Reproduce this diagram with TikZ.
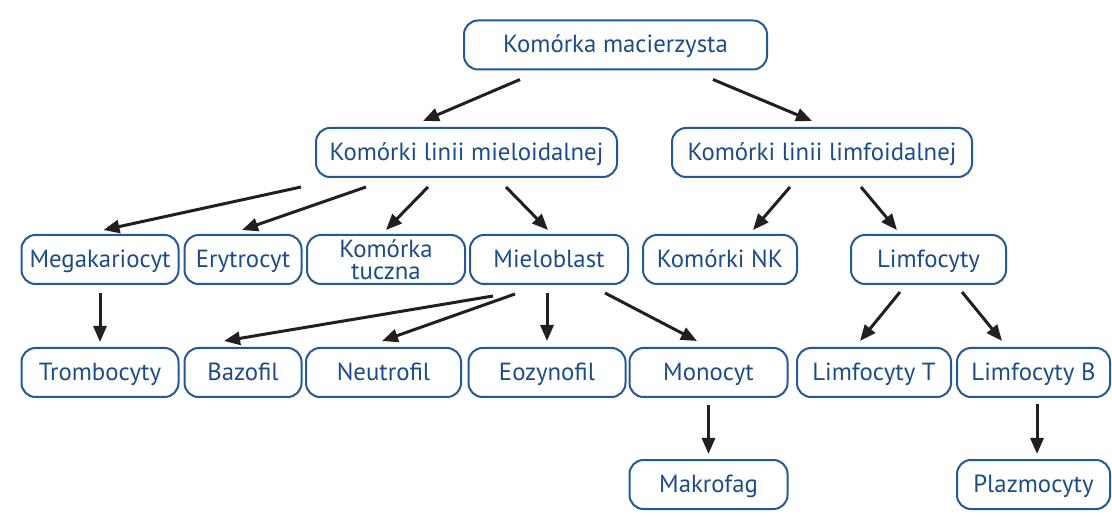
\documentclass[tikz,border=0pt]{standalone}
\usepackage{fontspec}
\setmainfont{PT Sans}
\usetikzlibrary{arrows.meta,calc}
\definecolor{txtblue}{RGB}{28,76,136}
\definecolor{boxblue}{RGB}{36,88,150}
\definecolor{arrblack}{RGB}{35,31,32}
\tikzset{
  boxbase/.style={draw=boxblue, line width=1pt, rounded corners=7pt, text=txtblue,
    minimum height=24.5pt, minimum width=#1*0.5pt, inner sep=0pt, align=center,
    font=\fontsize{12.4}{11.2}\selectfont},
  box/.style={boxbase=#1, text height=9.5pt, text depth=1.5pt},
  arr/.style={draw=arrblack, line width=1.5pt, -{Triangle[length=8pt,width=6.5pt]}}
}
\begin{document}
\begin{tikzpicture}[x=0.5pt, y=-0.5pt]
  \useasboundingbox (0,0) rectangle (1112,517);
  % level 1 and 2
  \node[box=303] (mac) at (615.5,45) {Komórka macierzysta};
  \node[box=301] (mie) at (466.5,152.5) {Komórki linii mieloidalnej};
  \node[box=300] (lim) at (822,152.5) {Komórki linii limfoidalnej};
  % level 3
  \node[box=157] (mega) at (100,259.5) {Megakariocyt};
  \node[box=117] (ery) at (243,259.5) {Erytrocyt};
  \node[boxbase=158] (tuc) at (386,259.5) {Komórka\\tuczna};
  \node[box=158] (mblast) at (549,259.5) {Mieloblast};
  \node[box=154] (nk) at (720,259.5) {Komórki NK};
  \node[box=155] (lcyt) at (928.5,259.5) {Limfocyty};
  % level 4
  \node[box=157] (tromb) at (100,372.5) {Trombocyty};
  \node[box=117] (baz) at (243,372.5) {Bazofil};
  \node[box=155] (neu) at (383.5,372.5) {Neutrofil};
  \node[box=157] (eoz) at (547,372.5) {Eozynofil};
  \node[box=158] (mono) at (708.5,372.5) {Monocyt};
  \node[box=154] (lt) at (874,372.5) {Limfocyty T};
  \node[box=153] (lb) at (1033.5,372.5) {Limfocyty B};
  % level 5
  \node[box=158] (makro) at (708.5,484.5) {Makrofag};
  \node[box=153] (plazm) at (1033.5,484.5) {Plazmocyty};
  % arrows: source/target/start shift/end shift
  \foreach \a/\b/\sx/\sy/\ex/\ey in {mac/mie/-95.5/9/-43.5/-6, mac/lim/97.5/9/-10/-6,
      mie/mega/-165.5/9/3.5/-4, mie/ery/-100.5/9/-1/-4, mie/tuc/-38.5/9/0/-4,
      mie/mblast/39.5/9/-1/-4, lim/nk/-32/9/33/-4, lim/lcyt/39/9/-31.5/-4,
      mega/tromb/0/8/0/-5, mblast/baz/-56/11/-19/-6, mblast/neu/-34/9/-1.5/-6,
      mblast/eoz/-2/8/0/-6, mblast/mono/56/8/-11.5/-6, lcyt/lt/-28.5/7/-14/-6,
      lcyt/lb/33.5/7/-31.5/-6, mono/makro/0/7/0/-5, lb/plazm/3.5/6/3.5/-5}
    \draw[arr] ($(\a.south)+(\sx,\sy)$) -- ($(\b.north)+(\ex,\ey)$);
\end{tikzpicture}
\end{document}
